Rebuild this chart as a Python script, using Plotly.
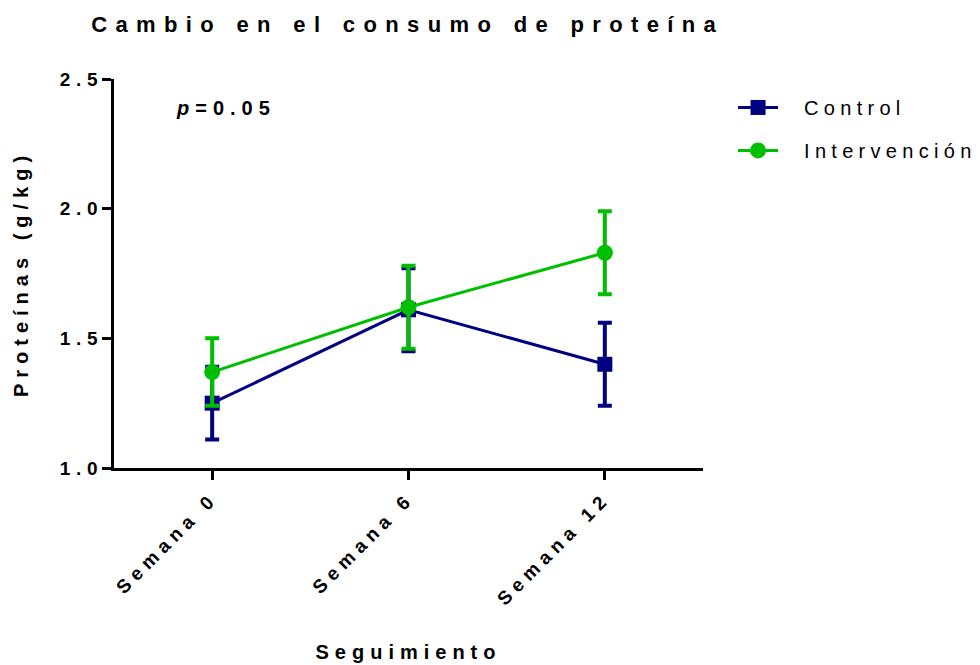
import plotly.graph_objects as go

categories = ["Semana 0", "Semana 6", "Semana 12"]
control_mean = [1.25, 1.61, 1.40]
control_err = [0.14, 0.16, 0.16]
interv_mean = [1.37, 1.62, 1.83]
interv_err = [0.13, 0.16, 0.16]
y_ticks = [1.0, 1.5, 2.0, 2.5]

NAVY = "#000080"
GREEN = "#00BF00"
FONT = "Liberation Sans, Arial, sans-serif"

fig = go.Figure()
fig.add_trace(go.Scatter(
    x=categories, y=control_mean, name="Control", mode="lines+markers",
    legendgroup="control",
    line=dict(color=NAVY, width=3),
    marker=dict(symbol="square", size=15, color=NAVY),
    error_y=dict(type="data", array=control_err, visible=True, color=NAVY, thickness=4, width=7),
))
fig.add_trace(go.Scatter(
    x=categories, y=interv_mean, name="Intervención", mode="lines+markers",
    legendgroup="interv",
    line=dict(color=GREEN, width=3),
    marker=dict(symbol="circle", size=16, color=GREEN),
    error_y=dict(type="data", array=interv_err, visible=True, color=GREEN, thickness=4, width=7),
))

fig.add_annotation(
    x=-0.104, y=2.39, xref="x", yref="y", xanchor="left", yanchor="middle",
    text="<i>p</i>=0.05", showarrow=False,
    font=dict(family=FONT, size=20, color="black", weight="bold"),
)

fig.update_layout(
    width=980, height=665,
    margin=dict(l=114, r=277, t=79, b=197, autoexpand=False),
    paper_bgcolor="white", plot_bgcolor="white",
    font=dict(family=FONT, size=20, color="black"),
    title=dict(
        text="Cambio en el consumo de proteína",
        x=0.416, xref="container", xanchor="center",
        y=0.963, yref="container", yanchor="middle",
        font=dict(family=FONT, size=22, color="black", weight="bold"),
    ),
    legend=dict(
        x=1.051, y=0.977, xanchor="left", yanchor="top",
        font=dict(family=FONT, size=20, color="black"),
        bgcolor="rgba(0,0,0,0)", itemwidth=40,
        traceorder="grouped", tracegroupgap=14,
    ),
    showlegend=True,
)

fig.update_xaxes(
    type="category", range=[-0.5, 2.5],
    showline=True, linecolor="black", linewidth=3,
    ticks="outside", ticklen=9, tickwidth=3, tickcolor="black",
    tickangle=-45, showgrid=False, zeroline=False,
    tickfont=dict(family=FONT, size=19, color="black", weight="bold"),
    title=dict(text="Seguimiento", standoff=73,
               font=dict(family=FONT, size=20, color="black", weight="bold")),
)
fig.update_yaxes(
    range=[1.0, 2.5], tickvals=y_ticks, tickformat=".1f",
    showline=True, linecolor="black", linewidth=3,
    ticks="outside", ticklen=9, tickwidth=3, tickcolor="black",
    ticklabelstandoff=-5,
    showgrid=False, zeroline=False,
    tickfont=dict(family=FONT, size=19, color="black", weight="bold"),
    title=dict(text="Proteínas (g/kg)", standoff=43,
               font=dict(family=FONT, size=20, color="black", weight="bold")),
)

post = """
var st=document.createElement('style');
st.innerHTML='body{margin:0;} .js-plotly-plot .main-svg text{letter-spacing:0.3em;} .js-plotly-plot .main-svg text.gtitle{letter-spacing:0.38em;} .js-plotly-plot .legend .scrollbox{clip-path:none;} .js-plotly-plot .main-svg text.legendtext{letter-spacing:0.265em;transform:translateX(21px);}';
document.head.appendChild(st);
"""
fig.write_html("out.html", post_script=post, config={"displayModeBar": False})
